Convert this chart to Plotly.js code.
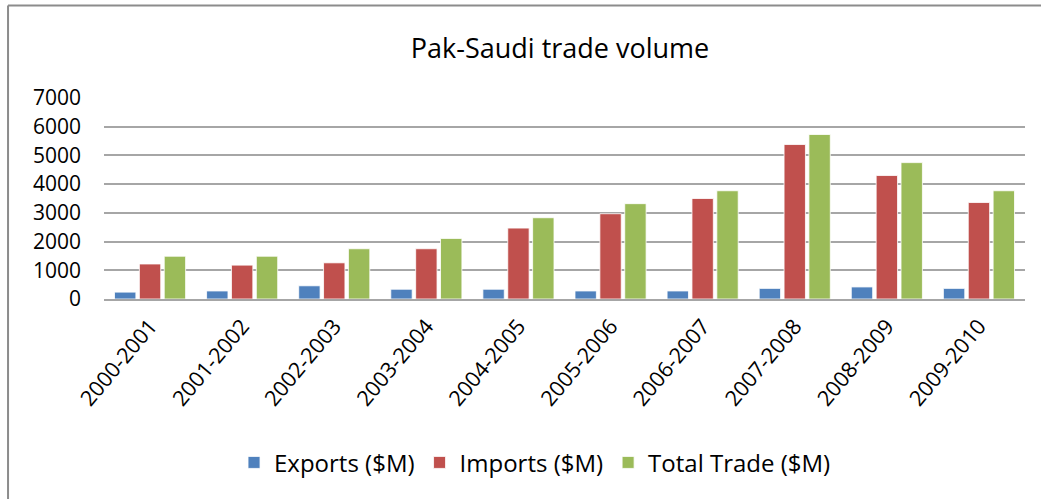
<!DOCTYPE html>
<html>
<head>
<meta charset="utf-8">
<script src="https://cdn.plot.ly/plotly-3.0.1.min.js"></script>
<style>
html,body{margin:0;padding:0;background:#fff;}
#chart{width:1041px;height:499px;}
</style>
</head>
<body>
<div id="chart"></div>
<script>
const categories = ["2000-2001","2001-2002","2002-2003","2003-2004","2004-2005","2005-2006","2006-2007","2007-2008","2008-2009","2009-2010"];
const exportsM = [240, 280, 460, 340, 340, 280, 280, 370, 420, 370];
const importsM = [1220, 1180, 1260, 1750, 2470, 2970, 3500, 5380, 4300, 3360];
const totalTradeM = [1490, 1490, 1750, 2110, 2830, 3320, 3770, 5730, 4750, 3770];
const seriesNames = ["Exports ($M)", "Imports ($M)", "Total Trade ($M)"];
const yTicks = [0,1000,2000,3000,4000,5000,6000,7000];

const colors = ["#4F81BD", "#C0504D", "#9BBB59"];
const font = "Open Sans, DejaVu Sans, sans-serif";

const traces = [exportsM, importsM, totalTradeM].map((vals, i) => ({
  type: "bar",
  x: categories,
  y: vals,
  name: seriesNames[i],
  marker: {color: colors[i], line: {color: "rgba(255,255,255,0.8)", width: 1}},
  hoverinfo: "x+y+name"
}));

const layout = {
  width: 1041, height: 499,
  paper_bgcolor: "#fff", plot_bgcolor: "#fff",
  margin: {l: 104, r: 16, t: 98, b: 200, pad: 0},
  barmode: "group",
  bargap: 0.19,
  bargroupgap: 0.14,
  font: {family: font, color: "#000"},
  title: {
    text: "Pak-Saudi trade volume",
    font: {family: font, size: 27, color: "#000"},
    x: 0.538, xref: "container", xanchor: "center",
    y: 0.902, yref: "container", yanchor: "middle"
  },
  xaxis: {
    type: "category",
    tickangle: -50,
    tickfont: {family: font, size: 21.5, color: "#000"},
    showgrid: false,
    showline: true, linecolor: "#A6A6A6", linewidth: 2,
    ticks: "", ticklabelstandoff: 4
  },
  yaxis: {
    range: [0, 7000],
    tickvals: yTicks,
    ticktext: yTicks.map(String),
    tickfont: {family: font, size: 21, color: "#000"},
    showgrid: true, gridcolor: "#A6A6A6", gridwidth: 2,
    zeroline: false, showline: false, ticks: "",
    ticklabelstandoff: 22
  },
  legend: {
    orientation: "h",
    x: 0.468, xanchor: "center",
    y: -0.815, yanchor: "middle",
    font: {family: font, size: 24, color: "#000"},
    itemwidth: 30,
    tracegroupgap: 0
  },
  shapes: [
    {type: "line", xref: "paper", yref: "paper", x0: -0.1042, x1: 1.02, y0: 1.4605, y1: 1.4605, line: {color: "#8C8C8C", width: 2}},
    {type: "line", xref: "paper", yref: "paper", x0: -0.1042, x1: -0.1042, y0: 1.4605, y1: -1.0, line: {color: "#8C8C8C", width: 2}}
  ]
};

Plotly.newPlot("chart", traces, layout, {displayModeBar: false, staticPlot: true});
</script>
</body>
</html>
